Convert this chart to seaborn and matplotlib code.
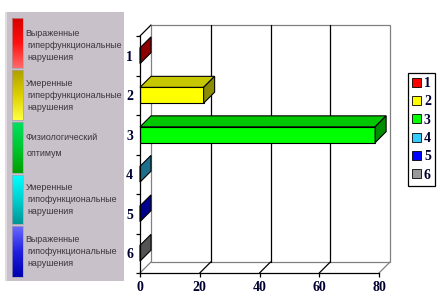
import numpy as np
import matplotlib
matplotlib.use("Agg")
import matplotlib.pyplot as plt
import seaborn as sns
from matplotlib.patches import Polygon, Patch, Rectangle
from matplotlib.colors import to_rgb, LinearSegmentedColormap

# ---------------- data ----------------
categories = ["1", "2", "3", "4", "5", "6"]
values = [0.0, 21.3, 78.7, 0.0, 0.0, 0.0]
bar_colors = ["#FF0000", "#FFFF00", "#00FF00", "#33CCFF", "#0000FF", "#999999"]
x_ticks = [0, 20, 40, 60, 80]
x_max = 80

zone_labels = [
    ["Выраженные", "гиперфункциональные", "нарушения"],
    ["Умеренные", "гиперфункциональные", "нарушения"],
    ["Физиологический", "оптимум"],
    ["Умеренные", "гипофункциональные", "нарушения"],
    ["Выраженные", "гипофункциональные", "нарушения"],
]
zone_gradients = [
    ["#D80000", "#FF1010", "#FF6A6A"],
    ["#B0A000", "#DDD000", "#FFFF40"],
    ["#00E060", "#00C830", "#00A000"],
    ["#00FFFF", "#00D0D0", "#009595"],
    ["#6A6AFF", "#2020E0", "#0000B0"],
]

# ---------------- figure ----------------
W, H, DPI = 442, 300, 100
sns.set_theme(style="white")
plt.rcParams["font.family"] = ["DejaVu Sans"]
fig = plt.figure(figsize=(W / DPI, H / DPI), dpi=DPI)
fig.patch.set_facecolor("white")

serif_bold = dict(family="Liberation Serif", weight="bold", size=10)
tick_color = "#000030"

# ---------------- left decorative scale panel ----------------
pl, pr, pt, pb = 5, 124, 12, 281
pax = fig.add_axes([pl / W, 1 - pb / H, (pr - pl) / W, (pb - pt) / H])
pax.set_xlim(pl, pr)
pax.set_ylim(pb, pt)
pax.set_facecolor("#C9C1C9")
for s in pax.spines.values():
    s.set_visible(False)
pax.set_xticks([])
pax.set_yticks([])
pax.axvline(pl + 0.6, color="#E6E0E6", lw=1.2)

strip_bounds = [(18, 68), (70, 120), (122, 173), (175, 224), (226, 277)]
line_ys = [[33, 45, 57], [83, 95, 107], [138, 153], [187, 199, 212], [240, 252, 264]]
for (y0, y1), grad, lines, lys in zip(strip_bounds, zone_gradients, zone_labels, line_ys):
    cmap = LinearSegmentedColormap.from_list("g", grad)
    img = np.linspace(0, 1, 64).reshape(-1, 1)
    pax.imshow(img, cmap=cmap, aspect="auto", extent=(12, 22.5, y1, y0),
               interpolation="bilinear", zorder=2)
    pax.add_patch(Rectangle((12, y0), 10.5, y1 - y0, fill=False,
                            edgecolor="#A8A0A8", lw=0.5, zorder=3))
    for i, (txt, ly) in enumerate(zip(lines, lys)):
        pax.text(25.3 if i == 0 else 27.0, ly, txt, fontsize=6.4,
                 family="Liberation Sans", color="#3A343A",
                 va="center", ha="left", zorder=4)

# ---------------- main 3D-like bar chart ----------------
fl, fr, ft, fb = 140, 379, 36, 273
ax = fig.add_axes([fl / W, 1 - fb / H, (fr - fl) / W, (fb - ft) / H])
ax.set_facecolor("none")

sns.barplot(x=values, y=categories, hue=categories, palette=bar_colors,
            orient="h", width=0.4, saturation=1, edgecolor="black",
            linewidth=0.8, legend=False, ax=ax, zorder=5)

ax.set_xlim(0, x_max)
ax.set_ylim(len(categories) - 0.5, -0.5)

# depth offset (pixels -> data units)
depth_px = 11.0
px_per_x = (fr - fl) / x_max
px_per_y = (fb - ft) / len(categories)
ddx = depth_px / px_per_x
ddy = depth_px / px_per_y  # back plane is higher -> smaller y (inverted)

y_top, y_bot = -0.5, len(categories) - 0.5
gray = "#808080"

# back wall
ax.add_patch(Polygon([(ddx, y_top - ddy), (x_max + ddx, y_top - ddy),
                      (x_max + ddx, y_bot - ddy), (ddx, y_bot - ddy)],
                     closed=True, facecolor="white", edgecolor=gray, lw=0.9,
                     clip_on=False, zorder=0))
for xv in x_ticks[1:-1]:
    ax.plot([xv + ddx, xv + ddx], [y_top - ddy, y_bot - ddy], color="black",
            lw=0.9, clip_on=False, zorder=1)
# floor diagonals
for xv in x_ticks:
    col = "black" if 0 < xv < x_max else gray
    ax.plot([xv, xv + ddx], [y_bot, y_bot - ddy], color=col, lw=0.9,
            clip_on=False, zorder=1)
# left wall top diagonal
ax.plot([0, ddx], [y_top, y_top - ddy], color="black", lw=0.9,
        clip_on=False, zorder=1)


def shade(c, f):
    r, g, b = to_rgb(c)
    return (r * f, g * f, b * f)


for p in ax.patches[:]:
    if not isinstance(p, Rectangle) or p.get_zorder() != 5:
        continue
    x0, y0 = p.get_x(), p.get_y()
    w, h = p.get_width(), p.get_height()
    fc = p.get_facecolor()
    ytop = min(y0, y0 + h)
    ybot = max(y0, y0 + h)
    x1 = x0 + w
    # top face
    if w > 0:
        ax.add_patch(Polygon([(x0, ytop), (x1, ytop), (x1 + ddx, ytop - ddy),
                              (x0 + ddx, ytop - ddy)], closed=True,
                             facecolor=shade(fc, 0.78), edgecolor="black",
                             lw=0.8, clip_on=False, zorder=6))
    # end (side) face
    ax.add_patch(Polygon([(x1, ytop), (x1, ybot), (x1 + ddx, ybot - ddy),
                          (x1 + ddx, ytop - ddy)], closed=True,
                         facecolor=shade(fc, 0.55), edgecolor="black",
                         lw=0.8, clip_on=False, zorder=6))

# axes styling
for side in ("top", "right"):
    ax.spines[side].set_visible(False)
for side in ("left", "bottom"):
    ax.spines[side].set_color("black")
    ax.spines[side].set_linewidth(0.9)
    ax.spines[side].set_zorder(7)

ax.set_xticks(x_ticks)
ax.set_xticklabels([str(v) for v in x_ticks], fontdict=serif_bold, color=tick_color)
ax.tick_params(axis="x", direction="out", length=3, width=0.9, color="black",
               pad=3, bottom=True)
ax.set_yticks(np.arange(-0.5, len(categories), 1.0))
ax.set_yticklabels([])
ax.tick_params(axis="y", which="major", direction="out", length=3, width=0.9,
               color="black", left=True)
ax.set_yticks(np.arange(len(categories)), minor=True)
ax.set_yticklabels(categories, minor=True, fontdict=serif_bold, color=tick_color)
ax.tick_params(axis="y", which="minor", length=0, pad=5)
ax.set_xlabel("")
ax.set_ylabel("")
ax.grid(False)

# legend
handles = [Patch(facecolor=c, edgecolor="black", lw=0.6) for c in bar_colors]
leg = fig.legend(handles=handles, labels=categories, loc="upper left",
                 bbox_to_anchor=(408 / W, 1 - 73 / H), frameon=True,
                 fancybox=False, framealpha=1, edgecolor="black",
                 prop=dict(family="Liberation Serif", weight="bold", size=10),
                 handlelength=0.6, handleheight=0.6, handletextpad=0.25,
                 labelspacing=0.38, borderpad=0.3, borderaxespad=0)
leg.get_frame().set_linewidth(0.9)
for t in leg.get_texts():
    t.set_color(tick_color)

fig.savefig("out.png", dpi=DPI, facecolor="white")
